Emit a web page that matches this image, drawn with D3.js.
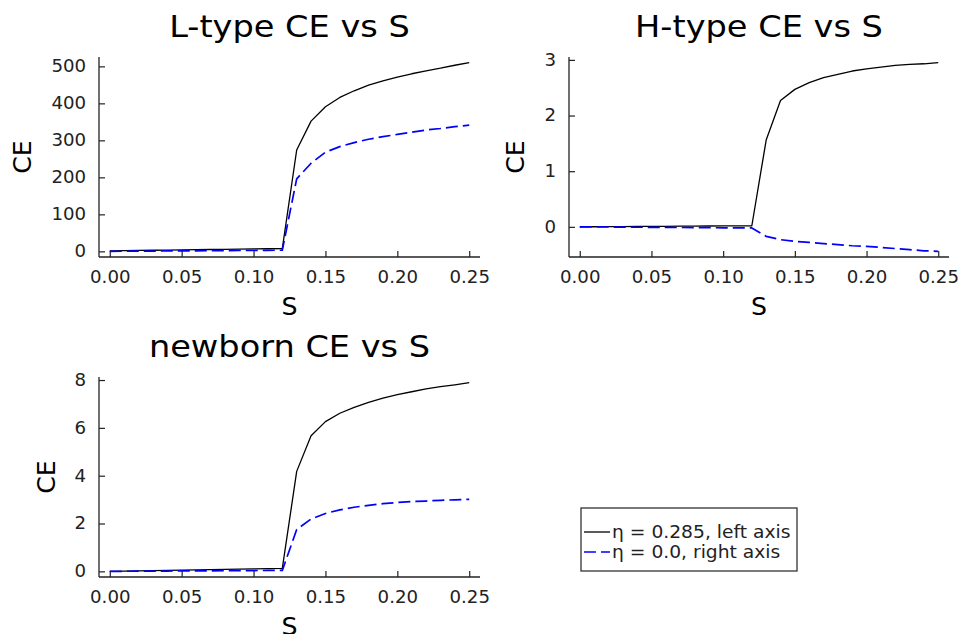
<!DOCTYPE html>
<html>
<head>
<meta charset="utf-8">
<script src="https://cdn.jsdelivr.net/npm/d3@7"></script>
<style>
  html, body { margin: 0; padding: 0; background: #fff; }
  svg { display: block; font-family: "DejaVu Sans", sans-serif; }
</style>
</head>
<body>
<svg id="chart" width="961" height="634"></svg>
<script>
// ---------------- DATA ----------------
const S = [0.00, 0.01, 0.02, 0.03, 0.04, 0.05, 0.06, 0.07, 0.08, 0.09, 0.10, 0.11, 0.12,
           0.13, 0.14, 0.15, 0.16, 0.17, 0.18, 0.19, 0.20, 0.21, 0.22, 0.23, 0.24, 0.25];

// L-type CE
const lTypeEta285 = [1.5, 2.0, 2.5, 3.0, 3.5, 4.0, 4.5, 5.0, 5.5, 6.0, 6.5, 7.0, 7.5,
                     274, 352, 391, 416, 434, 449, 461, 471, 480, 488, 495, 503, 510];
const lTypeEta0   = [0.0, 0.3, 0.5, 0.8, 1.0, 1.3, 1.5, 1.8, 2.0, 2.3, 2.5, 2.8, 3.0,
                     196, 238, 268, 283, 294, 303, 310, 316, 322, 328, 332, 337, 341];

// H-type CE
const hTypeEta285 = [0.000, 0.002, 0.003, 0.005, 0.007, 0.008, 0.010, 0.012, 0.013, 0.015, 0.017, 0.018, 0.020,
                     1.56, 2.27, 2.47, 2.59, 2.68, 2.74, 2.80, 2.84, 2.87, 2.90, 2.92, 2.93, 2.95];
const hTypeEta0   = [0.000, -0.002, -0.003, -0.005, -0.007, -0.008, -0.010, -0.012, -0.013, -0.015, -0.017, -0.018, -0.020,
                     -0.17, -0.23, -0.26, -0.28, -0.30, -0.32, -0.34, -0.35, -0.37, -0.39, -0.41, -0.43, -0.44];

// newborn CE
const newbornEta285 = [0.00, 0.01, 0.02, 0.03, 0.04, 0.05, 0.06, 0.07, 0.08, 0.09, 0.10, 0.11, 0.12,
                       4.18, 5.67, 6.26, 6.61, 6.86, 7.07, 7.24, 7.39, 7.51, 7.63, 7.72, 7.80, 7.89];
const newbornEta0   = [0.000, 0.003, 0.007, 0.010, 0.013, 0.017, 0.020, 0.023, 0.027, 0.030, 0.033, 0.037, 0.040,
                       1.75, 2.19, 2.42, 2.57, 2.68, 2.76, 2.83, 2.88, 2.92, 2.94, 2.97, 2.99, 3.01];

// ticks
const xTicks = [0.00, 0.05, 0.10, 0.15, 0.20, 0.25];
const lTypeYTicks = [0, 100, 200, 300, 400, 500];
const hTypeYTicks = [0, 1, 2, 3];
const newbornYTicks = [0, 2, 4, 6, 8];

// labels
const titles = ["L-type CE vs S", "H-type CE vs S", "newborn CE vs S"];
const xLabel = "S";
const yLabel = "CE";
const legendLabels = ["η = 0.285, left axis", "η = 0.0, right axis"];
const seriesColors = ["#000000", "#0000ff"];

// ---------------- DRAW ----------------
const svg = d3.select("#chart");

function widen(lo, hi) {
  const pad = (hi - lo) * 0.03;
  return [lo - pad, hi + pad];
}

function drawPanel(cfg) {
  const { left, right, top, bottom, title, yTicks, s1, s2, yLabelX } = cfg;
  const g = svg.append("g");
  const cx = (left + right) / 2;

  const x = d3.scaleLinear().domain(widen(d3.min(S), d3.max(S))).range([left, right]);
  const allY = s1.concat(s2);
  const y = d3.scaleLinear().domain(widen(d3.min(allY), d3.max(allY))).range([bottom, top]);

  // title
  g.append("text")
    .attr("transform", `translate(${cx},${top - 20}) scale(1.12,1)`)
    .attr("text-anchor", "middle")
    .attr("font-size", 30)
    .attr("fill", "#000")
    .text(title);

  // x axis
  const xAxis = d3.axisBottom(x).tickValues(xTicks).tickFormat(d3.format(".2f"))
    .tickSizeInner(-6).tickSizeOuter(0).tickPadding(14);
  const xg = g.append("g").attr("transform", `translate(0,${bottom})`).call(xAxis);
  xg.select(".domain").remove();
  xg.append("line").attr("x1", left).attr("x2", right).attr("y1", 0).attr("y2", 0)
    .attr("stroke", "#222").attr("stroke-width", 1.3);
  xg.selectAll(".tick line").attr("stroke", "#222").attr("stroke-width", 1.2);
  xg.selectAll(".tick text").attr("font-size", 17).attr("fill", "#222")
    .attr("font-family", "DejaVu Sans, sans-serif")
    .attr("transform", "scale(1.07,1)");

  // y axis
  const yAxis = d3.axisLeft(y).tickValues(yTicks).tickFormat(d3.format("d"))
    .tickSizeInner(-6).tickSizeOuter(0).tickPadding(12);
  const yg = g.append("g").attr("transform", `translate(${left},0)`).call(yAxis);
  yg.select(".domain").remove();
  yg.append("line").attr("x1", 0).attr("x2", 0).attr("y1", top).attr("y2", bottom)
    .attr("stroke", "#222").attr("stroke-width", 1.3);
  yg.selectAll(".tick line").attr("stroke", "#222").attr("stroke-width", 1.2);
  yg.selectAll(".tick text").attr("font-size", 17).attr("fill", "#222")
    .attr("font-family", "DejaVu Sans, sans-serif")
    .attr("transform", "scale(1.07,1)");

  // axis labels
  g.append("text")
    .attr("transform", `translate(${cx},${bottom + 58}) scale(1.05,1)`)
    .attr("text-anchor", "middle")
    .attr("font-size", 24)
    .attr("fill", "#000")
    .text(xLabel);
  g.append("text")
    .attr("transform", `translate(${yLabelX},${(top + bottom) / 2}) rotate(-90) scale(1.05,1)`)
    .attr("text-anchor", "middle")
    .attr("dominant-baseline", "central")
    .attr("font-size", 24)
    .attr("fill", "#000")
    .text(yLabel);

  const line = d3.line().x((d, i) => x(S[i])).y(d => y(d));
  g.append("path").datum(s1).attr("d", line)
    .attr("fill", "none").attr("stroke", seriesColors[0]).attr("stroke-width", 1.3)
    .attr("stroke-linejoin", "round");
  g.append("path").datum(s2).attr("d", line)
    .attr("fill", "none").attr("stroke", seriesColors[1]).attr("stroke-width", 1.7)
    .attr("stroke-dasharray", "12,5").attr("stroke-linejoin", "round");
}

drawPanel({ left: 99, right: 480, top: 57, bottom: 257, title: titles[0],
            yTicks: lTypeYTicks, s1: lTypeEta285, s2: lTypeEta0, yLabelX: 23 });
drawPanel({ left: 569, right: 949, top: 57, bottom: 257, title: titles[1],
            yTicks: hTypeYTicks, s1: hTypeEta285, s2: hTypeEta0, yLabelX: 516 });
drawPanel({ left: 99, right: 480, top: 377, bottom: 577, title: titles[2],
            yTicks: newbornYTicks, s1: newbornEta285, s2: newbornEta0, yLabelX: 47 });

// legend
const lg = svg.append("g");
lg.append("rect").attr("x", 581).attr("y", 508).attr("width", 216).attr("height", 63)
  .attr("fill", "#fff").attr("stroke", "#333").attr("stroke-width", 1.3);
legendLabels.forEach((lab, i) => {
  const yy = 532 + i * 20;
  lg.append("line").attr("x1", 584).attr("x2", 610).attr("y1", yy).attr("y2", yy)
    .attr("stroke", seriesColors[i]).attr("stroke-width", i === 0 ? 1.3 : 1.7)
    .attr("stroke-dasharray", i === 0 ? null : "12,5");
  lg.append("text").attr("transform", `translate(612,${yy}) scale(1.1,1)`)
    .attr("dominant-baseline", "central")
    .attr("font-size", 17).attr("fill", "#222").text(lab);
});
</script>
</body>
</html>
